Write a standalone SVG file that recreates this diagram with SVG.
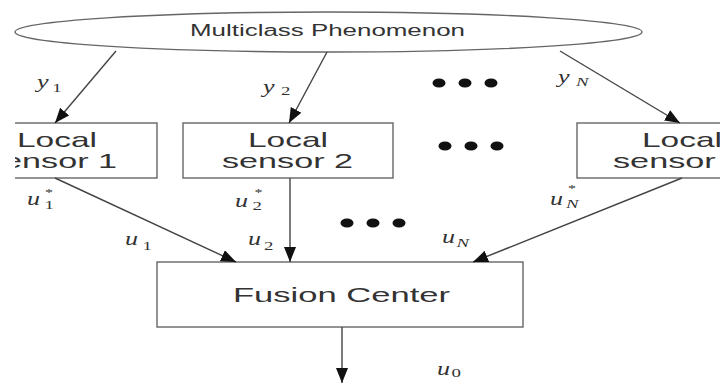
<svg xmlns="http://www.w3.org/2000/svg" width="720" height="383" viewBox="0 0 720 383">
  <style>
    .box { fill: #ffffff; stroke: #666666; stroke-width: 1.4; }
    .lbl { font-family: "Liberation Sans", Arial, sans-serif; font-size: 21px; fill: #333333; }
    .title { font-family: "Liberation Sans", Arial, sans-serif; font-size: 16px; fill: #333333; }
    .edge { stroke: #444444; stroke-width: 1.4; fill: none; marker-end: url(#head); }
    .m { font-family: "Liberation Serif", "Times New Roman", serif; font-style: italic; font-size: 18px; fill: #333333; }
    .sub { font-family: "Liberation Serif", "Times New Roman", serif; font-size: 13px; fill: #333333; }
    .subi { font-family: "Liberation Serif", "Times New Roman", serif; font-style: italic; font-size: 13px; fill: #333333; }
    .star { font-family: "Liberation Serif", "Times New Roman", serif; font-size: 11px; fill: #333333; }
    .dot { fill: #111111; }
  </style>
  <defs>
    <marker id="head" markerUnits="userSpaceOnUse" markerWidth="16" markerHeight="13" refX="15" refY="6" orient="auto">
      <path d="M0,0 L15,6 L0,12 z" fill="#111111"/>
    </marker>
    <clipPath id="leftEdge">
      <rect x="15" y="0" width="705" height="383"/>
    </clipPath>
  </defs>

  <!-- source phenomenon -->
  <g id="phenomenon">
    <ellipse cx="328.5" cy="32" rx="313.5" ry="20" fill="#ffffff" stroke="#666666" stroke-width="1.4"/>
    <text class="title" x="190" y="36" textLength="275" lengthAdjust="spacingAndGlyphs">Multiclass Phenomenon</text>
  </g>

  <!-- local sensors -->
  <g id="sensor1" clip-path="url(#leftEdge)">
    <rect class="box" x="-50" y="123" width="207" height="55"/>
    <text class="lbl" x="17" y="147" textLength="80" lengthAdjust="spacingAndGlyphs">Local</text>
    <text class="lbl" x="-14" y="168" textLength="131" lengthAdjust="spacingAndGlyphs">sensor 1</text>
  </g>
  <g id="sensor2">
    <rect class="box" x="183" y="123" width="210" height="55"/>
    <text class="lbl" x="248" y="147" textLength="80" lengthAdjust="spacingAndGlyphs">Local</text>
    <text class="lbl" x="222" y="168" textLength="131" lengthAdjust="spacingAndGlyphs">sensor 2</text>
  </g>
  <g id="sensorN">
    <rect class="box" x="577" y="123" width="210" height="55"/>
    <text class="lbl" x="642" y="147" textLength="80" lengthAdjust="spacingAndGlyphs">Local</text>
    <text class="lbl" x="613" y="168" textLength="137" lengthAdjust="spacingAndGlyphs">sensor N</text>
  </g>

  <!-- fusion center -->
  <g id="fusion">
    <rect class="box" x="157" y="262" width="366" height="65"/>
    <text class="lbl" x="233" y="302" textLength="217" lengthAdjust="spacingAndGlyphs">Fusion Center</text>
  </g>

  <!-- ellipsis dots -->
  <g id="dots">
    <ellipse class="dot" cx="439" cy="83" rx="6.5" ry="4.5"/>
    <ellipse class="dot" cx="465" cy="83" rx="6.5" ry="4.5"/>
    <ellipse class="dot" cx="491" cy="83" rx="6.5" ry="4.5"/>
    <ellipse class="dot" cx="445" cy="146" rx="6.5" ry="4.5"/>
    <ellipse class="dot" cx="471" cy="146" rx="6.5" ry="4.5"/>
    <ellipse class="dot" cx="497" cy="146" rx="6.5" ry="4.5"/>
    <ellipse class="dot" cx="347" cy="223" rx="6.5" ry="4.5"/>
    <ellipse class="dot" cx="373" cy="223" rx="6.5" ry="4.5"/>
    <ellipse class="dot" cx="399" cy="223" rx="6.5" ry="4.5"/>
  </g>

  <!-- connectors -->
  <g id="connectors">
    <line class="edge" x1="116" y1="51" x2="55" y2="123"/>
    <line class="edge" x1="327" y1="52" x2="289" y2="123"/>
    <line class="edge" x1="560" y1="51" x2="680" y2="123"/>
    <line class="edge" x1="55" y1="178" x2="236" y2="262"/>
    <line class="edge" x1="290" y1="178" x2="290" y2="262"/>
    <line class="edge" x1="682" y1="178" x2="473" y2="262"/>
    <line class="edge" x1="342" y1="327" x2="342" y2="383"/>
  </g>

  <!-- signal labels -->
  <g id="labels">
    <g transform="translate(37,88) scale(1.45,1)"><text class="m">y</text><text class="sub" x="10.5" y="4">1</text></g>
    <g transform="translate(263,93) scale(1.45,1)"><text class="m">y</text><text class="sub" x="12.5" y="2">2</text></g>
    <g transform="translate(558,83) scale(1.45,1)"><text class="m">y</text><text class="subi" x="12.5" y="3">N</text></g>

    <g transform="translate(27,205) scale(1.45,1)"><text class="m">u</text><text class="sub" x="12" y="4">1</text><text class="star" x="12.5" y="-9">*</text></g>
    <g transform="translate(235,207) scale(1.45,1)"><text class="m">u</text><text class="sub" x="12" y="3">2</text><text class="star" x="13.5" y="-11">*</text></g>
    <g transform="translate(550,205) scale(1.45,1)"><text class="m">u</text><text class="subi" x="11" y="3">N</text><text class="star" x="12.5" y="-13">*</text></g>

    <g transform="translate(125,245) scale(1.45,1)"><text class="m">u</text><text class="sub" x="12" y="5">1</text></g>
    <g transform="translate(248,245) scale(1.45,1)"><text class="m">u</text><text class="sub" x="11" y="5">2</text></g>
    <g transform="translate(442,243) scale(1.45,1)"><text class="m">u</text><text class="subi" x="10" y="4">N</text></g>
    <g transform="translate(437,375) scale(1.45,1)"><text class="m">u</text><text class="sub" x="10" y="2">0</text></g>
  </g>
</svg>
